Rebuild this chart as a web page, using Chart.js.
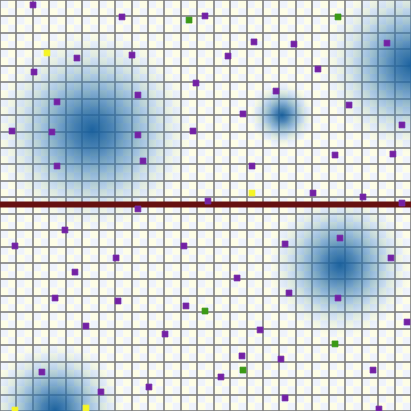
<!DOCTYPE html>
<html>
<head>
<meta charset="utf-8">
<script src="https://cdn.jsdelivr.net/npm/chart.js@4.4.1/dist/chart.umd.min.js"></script>
<style>
  html, body { margin: 0; padding: 0; background: #fff; }
  canvas { display: block; }
</style>
</head>
<body>
<canvas id="field" width="411" height="411"></canvas>
<script>
// grid units: 25 x 25 cells, y counted from the top
const gridMax = 25;

const purplePts = [
  [2.01,0.30],[7.42,1.03],[12.47,0.97],[4.68,3.53],[8.03,3.35],[2.07,4.38],
  [13.87,3.41],[15.45,2.55],[17.88,2.68],[19.34,4.20],[23.54,2.62],[11.92,5.05],
  [8.39,5.78],[3.47,6.20],[16.79,5.54],[14.78,6.93],[21.23,6.39],[0.73,7.97],
  [3.16,8.03],[8.39,8.21],[11.74,7.97],[24.45,7.60],[8.70,9.79],[3.47,10.10],
  [15.33,10.10],[20.38,9.43],[23.90,9.37],[19.04,11.74],[22.08,11.98],[12.65,12.23],
  [24.45,12.35],[8.39,12.71],[3.95,13.99],[0.91,14.96],[20.68,14.48],[11.19,14.96],
  [17.34,14.84],[7.06,15.69],[4.56,16.55],[14.42,16.91],[23.78,15.69],[3.35,18.13],
  [7.18,18.31],[17.58,17.82],[20.56,18.13],[11.31,18.61],[5.23,19.83],[10.04,20.32],
  [24.76,19.59],[15.82,20.07],[14.72,21.65],[17.09,21.84],[2.55,22.63],[13.44,22.93],
  [22.69,22.51],[9.06,23.54],[6.14,23.84],[17.34,24.21],[23.05,24.88]
];
const greenPts = [[11.50,1.22],[20.56,1.03],[12.47,18.92],[20.38,20.92],[14.78,22.51]];
const yellowPts = [[2.86,3.22],[15.33,11.74],[0.91,24.94],[5.23,24.82]];

// blue blobs: centre x, centre y, radius (px)
const blobX = [5.6, 17.15, 25.0, 20.68, 3.35];
const blobY = [7.9, 7.0, 3.95, 16.12, 24.94];
const blobR = [100, 32, 88, 72, 68];

const barrierY = 12.44;

const toXY = pts => pts.map(p => ({x: p[0], y: p[1]}));

function blobFill(c) {
  const chart = c.chart;
  const raw = c.raw;
  if (!raw || !chart.scales.x) return 'rgba(0,0,0,0)';
  const cx = chart.scales.x.getPixelForValue(raw.x);
  const cy = chart.scales.y.getPixelForValue(raw.y);
  if (!isFinite(cx) || !isFinite(cy)) return 'rgba(0,0,0,0)';
  const g = chart.ctx.createRadialGradient(cx, cy, 0, cx, cy, raw.r);
  g.addColorStop(0, 'rgba(22,94,156,0.97)');
  g.addColorStop(0.2, 'rgba(34,104,164,0.80)');
  g.addColorStop(0.45, 'rgba(56,126,182,0.50)');
  g.addColorStop(0.7, 'rgba(86,150,200,0.22)');
  g.addColorStop(0.88, 'rgba(110,165,210,0.07)');
  g.addColorStop(1, 'rgba(120,172,214,0)');
  return g;
}

// pale checkerboard behind the grid
const checker = {
  id: 'checker',
  beforeDraw(chart) {
    const {ctx, scales: {x, y}} = chart;
    ctx.save();
    for (let i = 0; i < gridMax * 2; i++) {
      for (let j = 0; j < gridMax * 2; j++) {
        const x0 = x.getPixelForValue(i / 2), x1 = x.getPixelForValue((i + 1) / 2);
        const y0 = y.getPixelForValue(j / 2), y1 = y.getPixelForValue((j + 1) / 2);
        ctx.fillStyle = (i + j) % 2 === 0 ? '#eff3fc' : '#fdfde6';
        ctx.fillRect(x0, y0, x1 - x0, y1 - y0);
      }
    }
    ctx.restore();
  }
};

const axis = (rev) => ({
  type: 'linear', min: 0, max: gridMax, reverse: rev,
  ticks: {display: false, stepSize: 1, maxTicksLimit: 40},
  grid: {color: 'rgba(125,125,125,0.8)', lineWidth: 2, drawTicks: false},
  border: {display: false}
});

new Chart(document.getElementById('field').getContext('2d'), {
  type: 'scatter',
  data: {
    datasets: [
      { label: 'purple', data: toXY(purplePts), order: 0, pointStyle: 'rect', pointRadius: 4.2,
        backgroundColor: '#7420a4', borderColor: 'rgba(120,50,170,0.7)', borderWidth: 1 },
      { label: 'green', data: toXY(greenPts), order: 0, pointStyle: 'rect', pointRadius: 4.2,
        backgroundColor: '#3a9a14', borderColor: 'rgba(60,150,30,0.7)', borderWidth: 1 },
      { label: 'yellow', data: toXY(yellowPts), order: 0, pointStyle: 'rect', pointRadius: 4.2,
        backgroundColor: '#f6f622', borderColor: 'rgba(240,240,60,0.7)', borderWidth: 1 },
      { type: 'line', label: 'barrier', order: 1,
        data: [{x: 0, y: barrierY}, {x: gridMax, y: barrierY}],
        borderColor: '#661010', borderWidth: 6, pointRadius: 0 },
      { type: 'bubble', label: 'blobs', order: 2,
        data: blobX.map((x, i) => ({x: x, y: blobY[i], r: blobR[i]})),
        backgroundColor: blobFill, borderWidth: 0, hoverRadius: 0 }
    ]
  },
  options: {
    responsive: false,
    animation: false,
    events: [],
    layout: {padding: 0, autoPadding: false},
    plugins: {legend: {display: false}, tooltip: {enabled: false}},
    scales: {x: axis(false), y: axis(true)}
  },
  plugins: [checker]
});
</script>
</body>
</html>
